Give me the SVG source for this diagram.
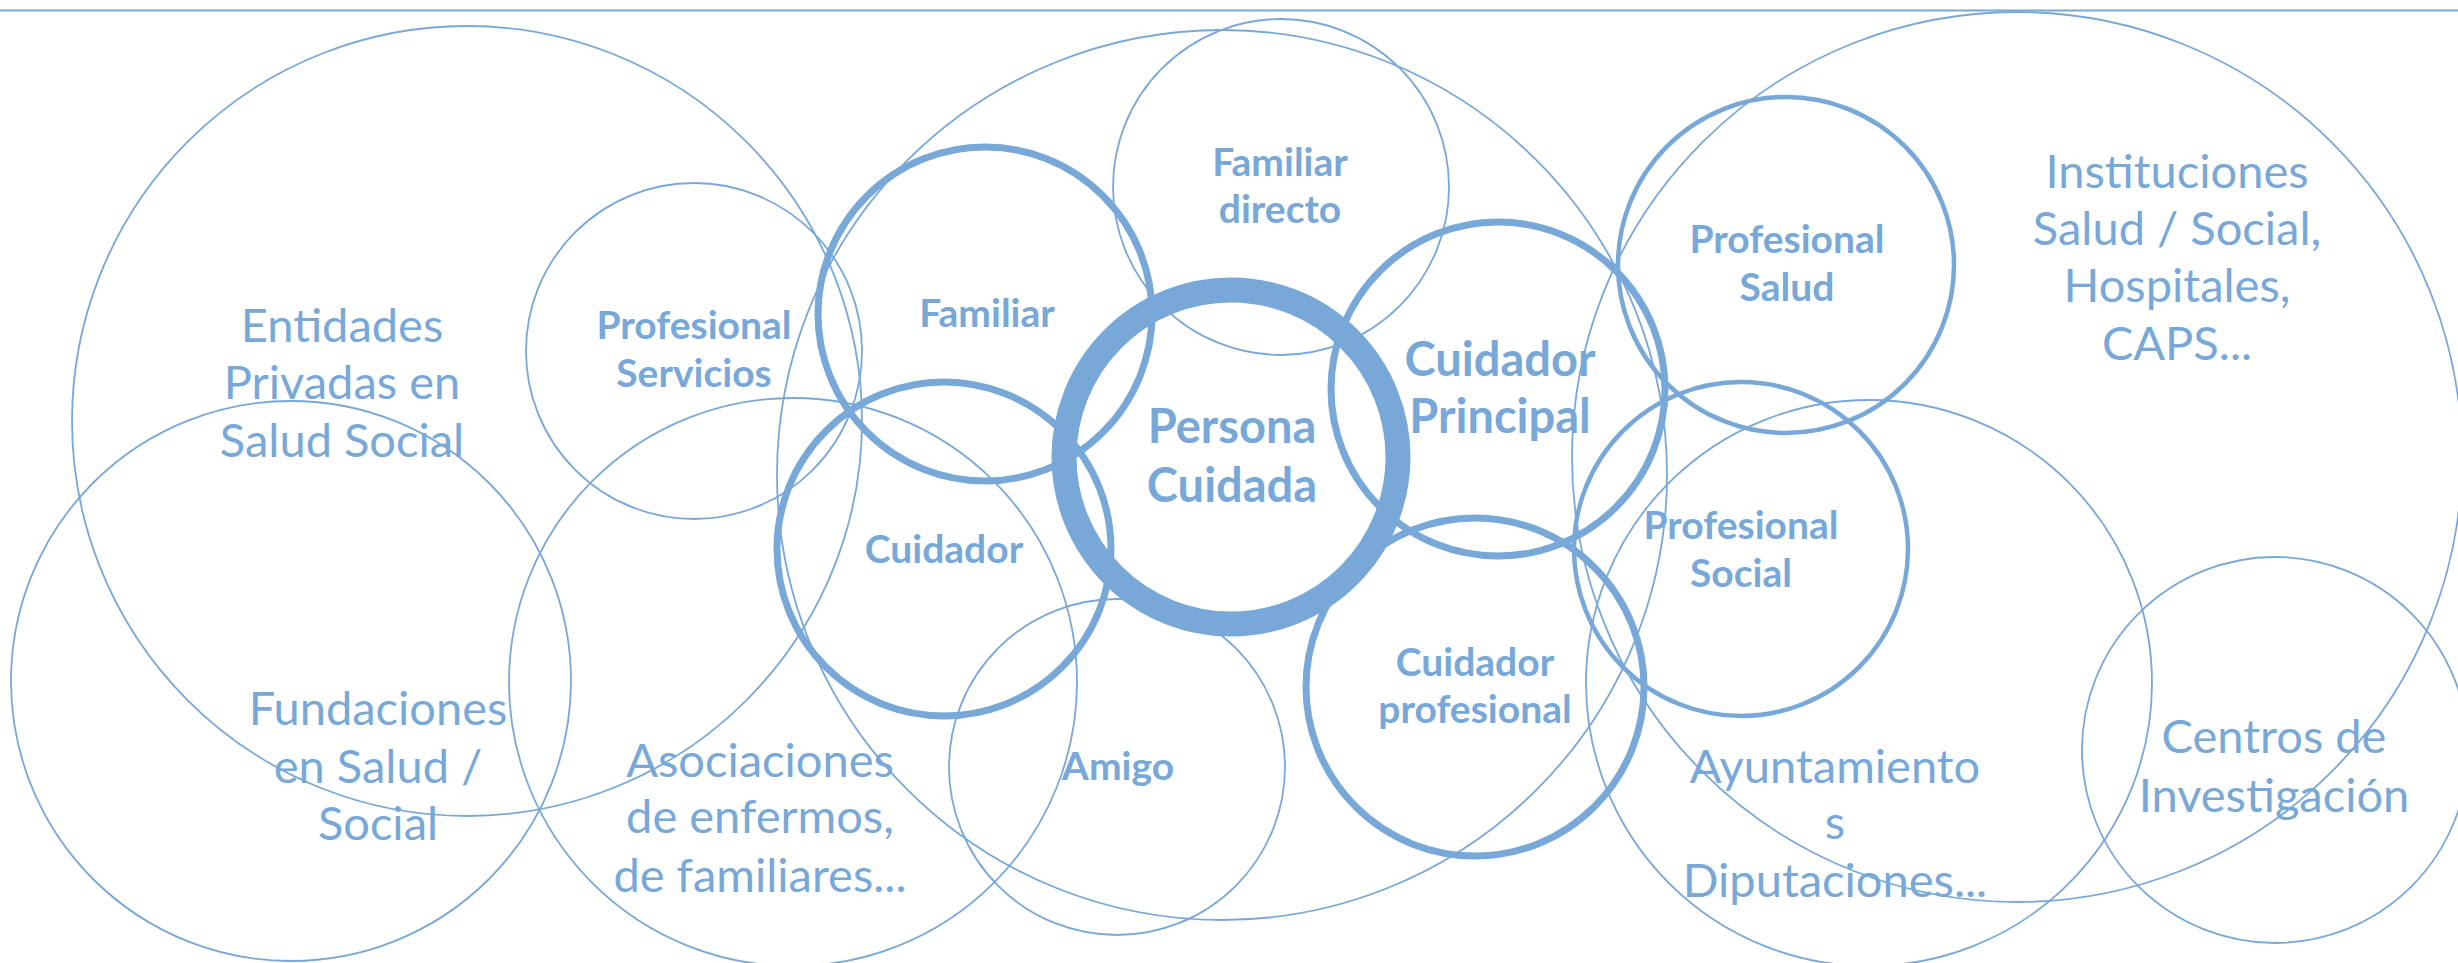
<svg xmlns="http://www.w3.org/2000/svg" width="2458" height="963" viewBox="0 0 2458 963">
<style>
.e{fill:none;stroke:#78A8D8}
.thin{stroke-width:1.8}
.mid{stroke-width:4.5}
.thick{stroke-width:7}
.huge{stroke-width:25}
text{font-family:Lato,"Liberation Sans",sans-serif;fill:#78A8D8;text-anchor:middle}
.r{font-size:47px;font-weight:400}
.b{font-size:39px;font-weight:700}
.bb{font-size:47px;font-weight:700}
</style>
<rect width="2458" height="963" fill="#ffffff"/>
<g id="connectors">
<line x1="0" y1="10.5" x2="2458" y2="10.5" stroke="#78A8D8" stroke-width="2"/>
</g>
<g id="entidades"><circle class="e thin" cx="467" cy="421" r="395"/>
<text class="r"><tspan x="342" y="342">Entidades</tspan><tspan x="342" y="399">Privadas en</tspan><tspan x="342" y="457">Salud Social</tspan></text></g>
<g id="fundaciones"><circle class="e thin" cx="291" cy="681" r="280"/>
<text class="r"><tspan x="378" y="725">Fundaciones</tspan><tspan x="378" y="783">en Salud /</tspan><tspan x="378" y="840">Social</tspan></text></g>
<g id="prof-servicios"><circle class="e thin" cx="694" cy="351" r="168"/>
<text class="b"><tspan x="694" y="339">Profesional</tspan><tspan x="694" y="387">Servicios</tspan></text></g>
<g id="asociaciones"><circle class="e thin" cx="793" cy="682" r="284"/>
<text class="r"><tspan x="760" y="777">Asociaciones</tspan><tspan x="760" y="833">de enfermos,</tspan><tspan x="760" y="892">de familiares...</tspan></text></g>
<g id="familia"><circle class="e thin" cx="1222" cy="475" r="445"/></g>
<g id="familiar-directo"><circle class="e thin" cx="1281" cy="187" r="168"/>
<text class="b"><tspan x="1280" y="176">Familiar</tspan><tspan x="1280" y="223">directo</tspan></text></g>
<g id="amigo"><circle class="e thin" cx="1117" cy="767" r="168"/>
<text class="b"><tspan x="1118" y="780">Amigo</tspan></text></g>
<g id="instituciones"><circle class="e thin" cx="2017" cy="457" r="445"/>
<text class="r"><tspan x="2177" y="188">Instituciones</tspan><tspan x="2177" y="245">Salud / Social,</tspan><tspan x="2177" y="302">Hospitales,</tspan><tspan x="2177" y="360">CAPS...</tspan></text></g>
<g id="ayuntamientos"><circle class="e thin" cx="1869" cy="683" r="283"/>
<text class="r"><tspan x="1835" y="783">Ayuntamiento</tspan><tspan x="1835" y="839">s</tspan><tspan x="1835" y="897">Diputaciones...</tspan></text></g>
<g id="centros"><circle class="e thin" cx="2275" cy="750" r="193"/>
<text class="r"><tspan x="2274" y="753">Centros de</tspan><tspan x="2274" y="812">Investigación</tspan></text></g>
<g id="prof-salud"><circle class="e mid" cx="1786" cy="265" r="168"/>
<text class="b"><tspan x="1787" y="253">Profesional</tspan><tspan x="1787" y="301">Salud</tspan></text></g>
<g id="prof-social"><circle class="e mid" cx="1741" cy="549" r="167"/>
<text class="b"><tspan x="1741" y="539">Profesional</tspan><tspan x="1741" y="587">Social</tspan></text></g>
<g id="familiar"><circle class="e thick" cx="985" cy="314" r="167"/>
<text class="b"><tspan x="987" y="327">Familiar</tspan></text></g>
<g id="cuidador"><circle class="e thick" cx="944" cy="549" r="167"/>
<text class="b"><tspan x="944" y="563">Cuidador</tspan></text></g>
<g id="cuidador-principal"><circle class="e thick" cx="1498" cy="389" r="167"/>
<text class="bb"><tspan x="1500" y="376">Cuidador</tspan><tspan x="1500" y="433">Principal</tspan></text></g>
<g id="cuidador-profesional"><circle class="e thick" cx="1475" cy="687" r="169"/>
<text class="b"><tspan x="1475" y="676">Cuidador</tspan><tspan x="1475" y="723">profesional</tspan></text></g>
<g id="persona-cuidada"><circle class="e huge" cx="1231" cy="457" r="167"/>
<text class="bb"><tspan x="1232" y="443">Persona</tspan><tspan x="1232" y="502">Cuidada</tspan></text></g>
</svg>
